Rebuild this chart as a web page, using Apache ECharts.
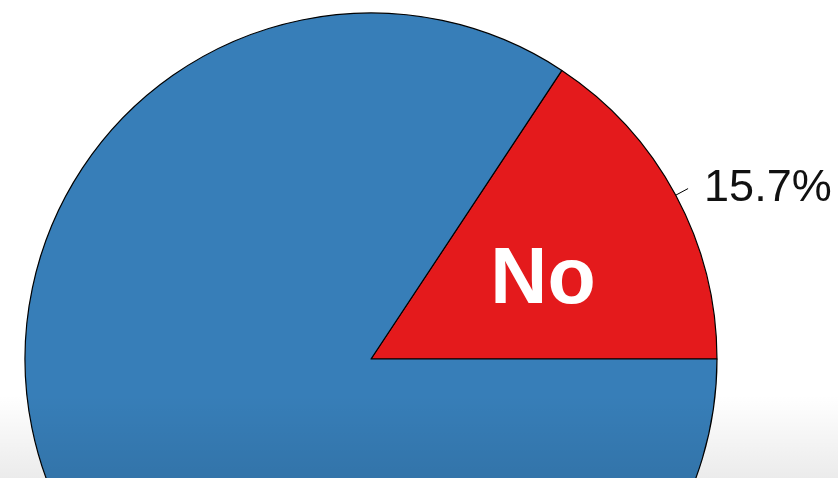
<!DOCTYPE html>
<html>
<head>
<meta charset="utf-8">
<script src="https://cdn.jsdelivr.net/npm/echarts@6/dist/echarts.min.js"></script>
<style>
  html, body { margin: 0; padding: 0; background: #fff; }
  #main { width: 838px; height: 478px; }
</style>
</head>
<body>
<div id="main"></div>
<script>
var answers = ['No', 'Yes'];
var shares = [15.7, 84.3];
var colors = ['#e41a1c', '#377eb8'];

var myChart = echarts.init(document.getElementById('main'));

var pieData = [];
for (var i = 0; i < answers.length; i++) {
    pieData.push({ name: answers[i], value: shares[i] });
}

var option = {
    animation: false,
    backgroundColor: '#fff',
    series: [
        {
            name: 'fill',
            type: 'pie',
            center: [371, 359],
            radius: [0, 346],
            startAngle: 0,
            clockwise: false,
            data: pieData.map(function (d, i) {
                return {
                    name: d.name,
                    value: d.value,
                    itemStyle: { color: colors[i] },
                    label: { show: d.name === 'No' }
                };
            }),
            itemStyle: { borderColor: '#000', borderWidth: 1.2 },
            label: {
                position: 'inside',
                formatter: '{b}',
                color: '#fff',
                fontSize: 79,
                fontWeight: 'bold',
                fontFamily: 'Liberation Sans, Arial, sans-serif',
                offset: [17, 6]
            },
            labelLine: { show: false },
            emphasis: { disabled: true }
        },
        {
            name: 'pct',
            type: 'pie',
            center: [371, 359],
            radius: [0, 346],
            startAngle: 0,
            clockwise: false,
            data: pieData,
            silent: true,
            itemStyle: { color: 'rgba(0,0,0,0)', borderWidth: 0 },
            label: {
                position: 'outside',
                formatter: function (p) { return p.value.toFixed(1) + '%'; },
                color: '#111',
                fontSize: 45,
                fontFamily: 'Liberation Sans, Arial, sans-serif',
                distanceToLabelLine: 16,
                overflow: 'none',
                padding: [0, 0, 10, 0]
            },
            labelLine: {
                show: true,
                length: 14,
                length2: 0,
                lineStyle: { color: '#000', width: 1 }
            },
            emphasis: { disabled: true }
        }
    ],
    graphic: [
        {
            type: 'rect',
            shape: { x: 0, y: 395, width: 838, height: 83 },
            style: {
                fill: new echarts.graphic.LinearGradient(0, 0, 0, 1, [
                    { offset: 0, color: 'rgba(0,0,0,0)' },
                    { offset: 1, color: 'rgba(0,0,0,0.08)' }
                ])
            },
            silent: true,
            z: 100
        }
    ]
};
myChart.setOption(option);
</script>
</body>
</html>
